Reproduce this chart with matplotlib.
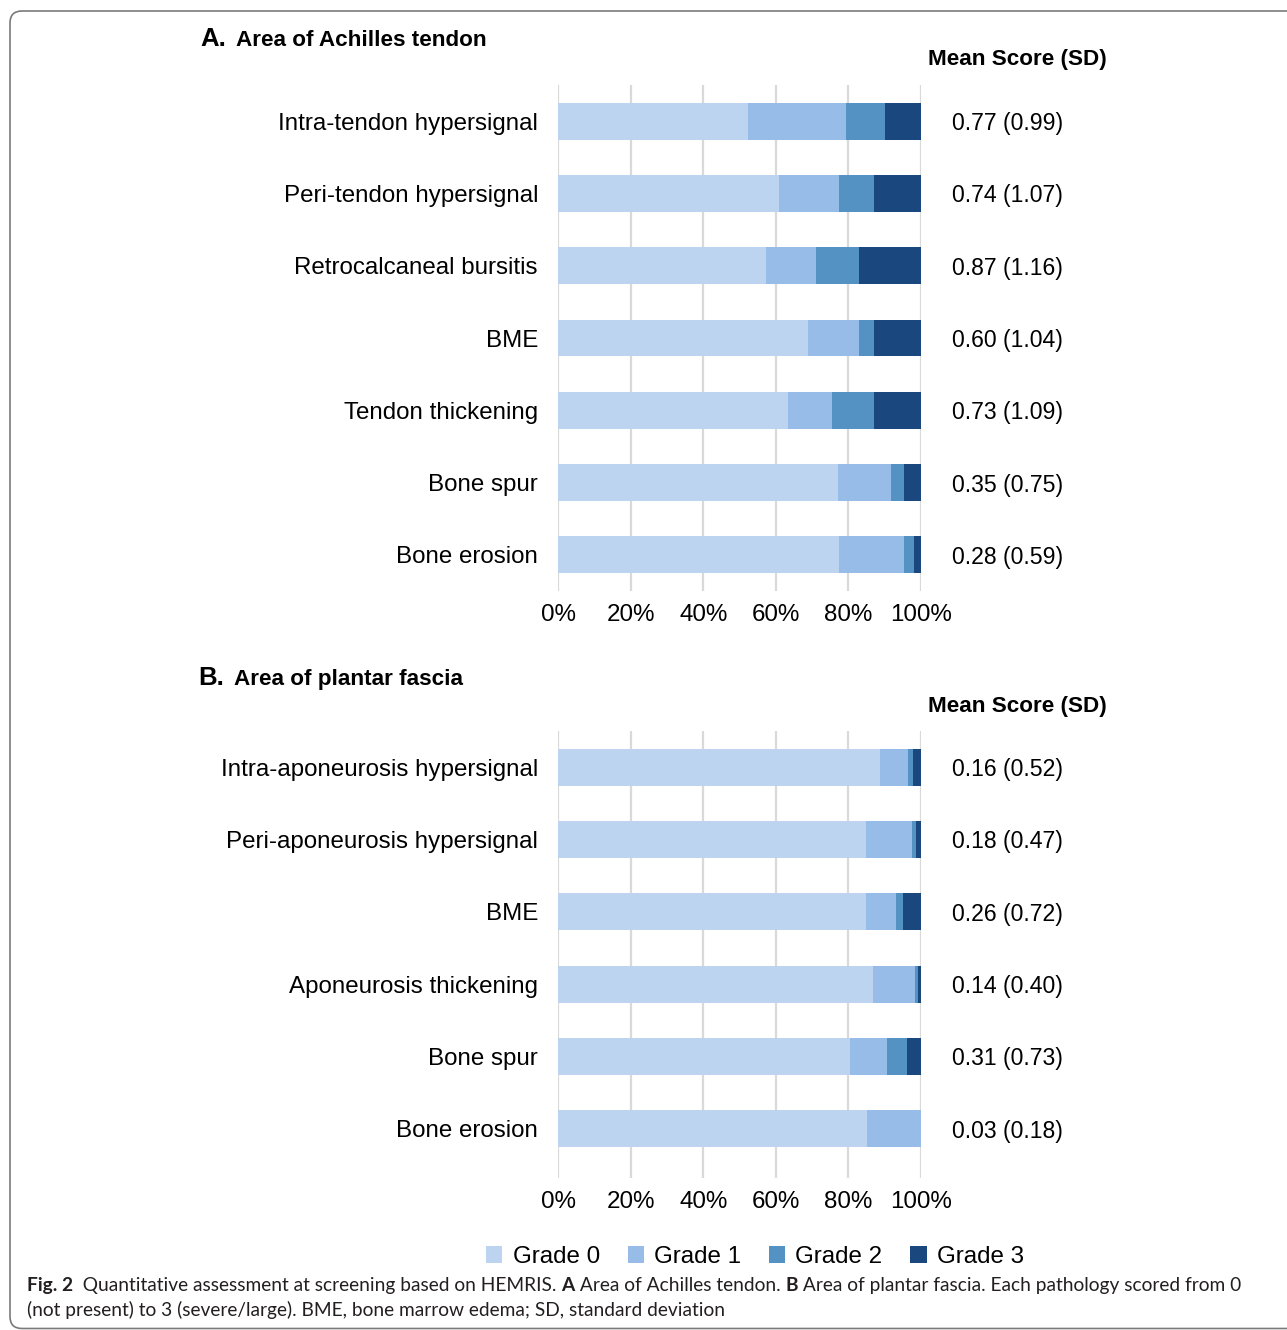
import matplotlib
matplotlib.use("Agg")
import matplotlib.pyplot as plt
from matplotlib.patches import Patch, FancyBboxPatch

plt.rcParams['font.family'] = ['Liberation Sans', 'DejaVu Sans']

# ---------------- data ----------------
grades = ["Grade 0", "Grade 1", "Grade 2", "Grade 3"]
colors = ["#BCD4F0", "#98BCE8", "#5492C4", "#1A477D"]

cats_a = ["Intra-tendon hypersignal", "Peri-tendon hypersignal", "Retrocalcaneal bursitis",
          "BME", "Tendon thickening", "Bone spur", "Bone erosion"]
a_g0 = [52.4, 61.0, 57.3, 69.0, 63.4, 77.1, 77.4]
a_g1 = [27.0, 16.5, 13.8, 14.0, 12.1, 14.6, 17.9]
a_g2 = [10.7, 9.6, 11.8, 4.1, 11.6, 3.6, 2.8]
a_g3 = [9.9, 12.9, 17.1, 12.9, 12.9, 4.7, 1.9]
means_a = ["0.77 (0.99)", "0.74 (1.07)", "0.87 (1.16)", "0.60 (1.04)",
           "0.73 (1.09)", "0.35 (0.75)", "0.28 (0.59)"]

cats_b = ["Intra-aponeurosis hypersignal", "Peri-aponeurosis hypersignal", "BME",
          "Aponeurosis thickening", "Bone spur", "Bone erosion"]
b_g0 = [88.7, 84.9, 84.9, 86.8, 80.5, 85.1]
b_g1 = [7.7, 12.7, 8.3, 11.6, 10.2, 14.9]
b_g2 = [1.4, 1.1, 1.9, 0.8, 5.5, 0.0]
b_g3 = [2.2, 1.3, 4.9, 0.8, 3.8, 0.0]
means_b = ["0.16 (0.52)", "0.18 (0.47)", "0.26 (0.72)", "0.14 (0.40)",
           "0.31 (0.73)", "0.03 (0.18)"]

xticks = [0, 20, 40, 60, 80, 100]
xticklabels = ["0%", "20%", "40%", "60%", "80%", "100%"]

caption_l1 = [("Fig. 2", "bold"), ("  Quantitative assessment at screening based on HEMRIS. ", "normal"),
              ("A", "bold"), (" Area of Achilles tendon. ", "normal"), ("B", "bold"),
              (" Area of plantar fascia. Each pathology scored from 0", "normal")]
caption_l2 = [("(not present) to 3 (severe/large). BME, bone marrow edema; SD, standard deviation", "normal")]

# ---------------- figure ----------------
W, H = 1287, 1330
fig = plt.figure(figsize=(W / 100, H / 100), dpi=100)
fig.patch.set_facecolor("white")

frame = FancyBboxPatch((0.10, 0.015), 13.3, 13.19 - 0.015,
                       boxstyle="round,pad=0,rounding_size=0.12",
                       transform=fig.dpi_scale_trans, fill=False,
                       edgecolor="#7a7a7a", linewidth=1.2, zorder=0)
fig.patches.append(frame)

FS = 17.4
FS_VAL = 16.6


def px_axes(left, top, right, bottom):
    return fig.add_axes([left / W, 1 - bottom / H, (right - left) / W, (bottom - top) / H])


def panel(ax, cats, series, means, extra_bottom=0.0):
    n = len(cats)
    ypos = list(range(n))
    left = [0.0] * n
    for vals, col in zip(series, colors):
        ax.barh(ypos, vals, left=left, height=0.51, color=col, zorder=3, linewidth=0)
        left = [l + v for l, v in zip(left, vals)]
    ax.set_xlim(0, 100)
    ax.set_ylim(n - 0.5 + extra_bottom, -0.5)
    ax.set_xticks(xticks)
    ax.set_xticklabels(xticklabels, fontsize=FS)
    ax.set_yticks(ypos)
    ax.set_yticklabels(cats, fontsize=FS)
    ax.tick_params(axis="both", length=0)
    ax.tick_params(axis="y", pad=14.4)
    ax.tick_params(axis="x", pad=9.0)
    for s in ax.spines.values():
        s.set_visible(False)
    ax.grid(axis="x", color="#D9D9D9", linewidth=1.6, zorder=0)
    ax.set_axisbelow(True)
    ax.set_facecolor("none")
    for y, m in zip(ypos, means):
        ax.text(108.5, y, m, fontsize=FS_VAL, ha="left", va="center_baseline", clip_on=False)


ax_a = px_axes(558, 85, 921, 591)
panel(ax_a, cats_a, [a_g0, a_g1, a_g2, a_g3], means_a)
ax_b = px_axes(558, 731, 921, 1178)
panel(ax_b, cats_b, [b_g0, b_g1, b_g2, b_g3], means_b, extra_bottom=0.18)

# titles
fig.text(200 / W, 1 - 46 / H, "A.", fontsize=18.5, fontweight="bold", ha="left", va="baseline")
fig.text(236 / W, 1 - 46 / H, "Area of Achilles tendon", fontsize=16.2, fontweight="bold",
         ha="left", va="baseline")
fig.text(198 / W, 1 - 685 / H, "B.", fontsize=18.5, fontweight="bold", ha="left", va="baseline")
fig.text(234 / W, 1 - 685 / H, "Area of plantar fascia", fontsize=16.2, fontweight="bold",
         ha="left", va="baseline")
for yc in (60, 706):
    fig.text(1017 / W, 1 - yc / H, "Mean Score (SD)", fontsize=16.2, fontweight="bold",
             ha="center", va="center")

# legend
handles = [Patch(facecolor=c, edgecolor="none", label=g) for c, g in zip(colors, grades)]
fig.legend(handles=handles, loc="center", bbox_to_anchor=(755 / W, 1 - 1257 / H), ncol=4,
           frameon=False, fontsize=FS, handlelength=0.68, handleheight=0.68,
           handletextpad=0.42, columnspacing=1.15, borderpad=0, borderaxespad=0)

# caption (mixed bold / regular, fitted to width)
cap_font = "Lato"
cap_color = "#231F20"
renderer = fig.canvas.get_renderer()


def line_width(pieces, size):
    total = 0
    for s, w in pieces:
        t = fig.text(0, 0, s, fontsize=size, fontweight=w, family=cap_font)
        total += t.get_window_extent(renderer).width
        t.remove()
    return total


target = 1245 - 27
size = 14.0
size = size * target / line_width(caption_l1, size)


def draw_line(pieces, x0, ybase, size):
    x = x0
    for s, w in pieces:
        t = fig.text(x / W, 1 - ybase / H, s, fontsize=size, fontweight=w, family=cap_font,
                     color=cap_color, ha="left", va="baseline")
        x += t.get_window_extent(renderer).width


draw_line(caption_l1, 27, 1291, size)
draw_line(caption_l2, 27, 1316, size)

fig.savefig("out.png", dpi=100, facecolor="white")
